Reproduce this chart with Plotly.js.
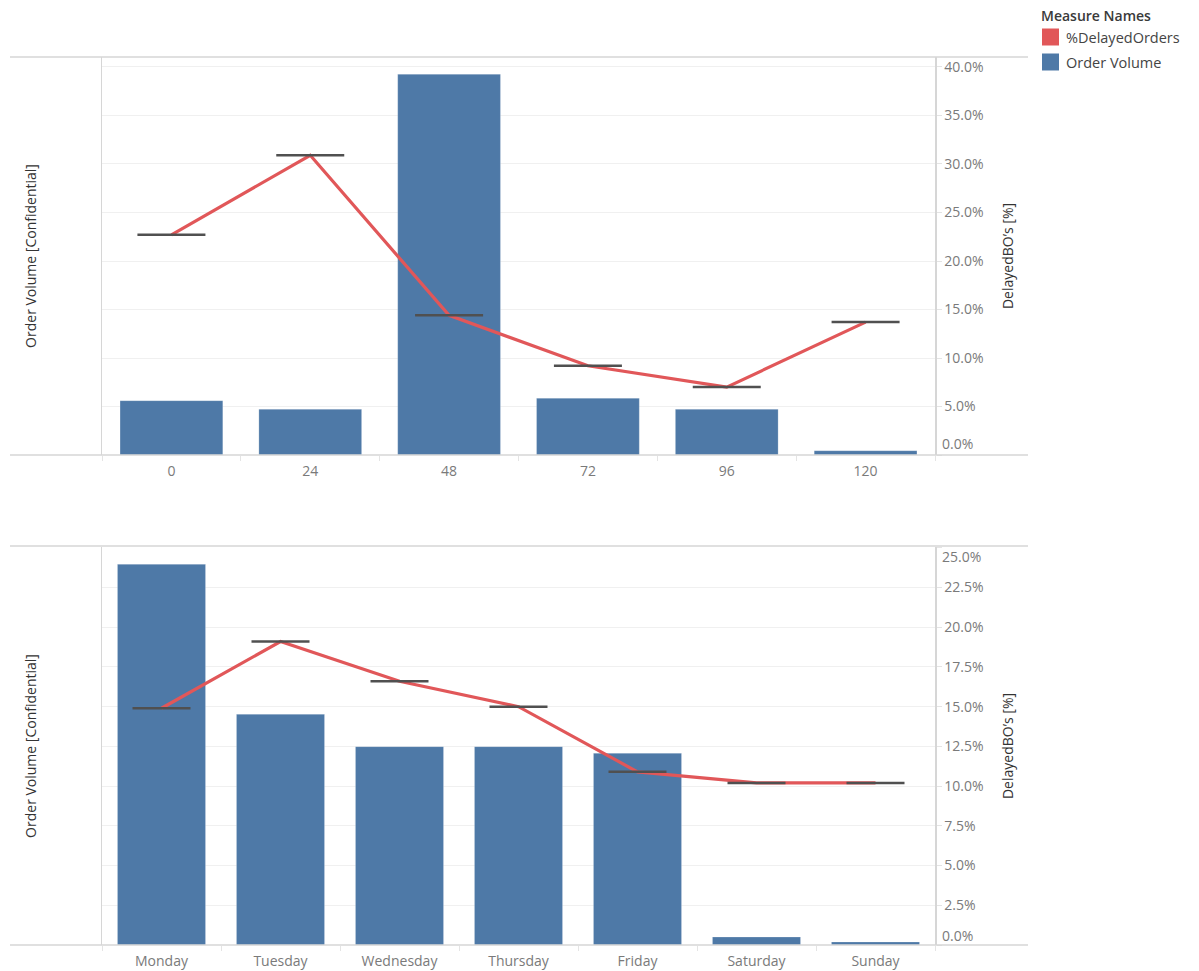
<!DOCTYPE html>
<html>
<head>
<meta charset="utf-8">
<script src="https://cdn.plot.ly/plotly-3.0.1.min.js"></script>
<style>
  html, body { margin: 0; padding: 0; background: #ffffff; }
  #chart { width: 1199px; height: 971px; }
</style>
</head>
<body>
<div id="chart"></div>
<script>
// Order volume and share of delayed orders, by lead-time bucket (hours)
const hourBins = ['0', '24', '48', '72', '96', '120'];
const hourVolume = [5460, 4590, 38260, 5700, 4590, 430];
const hourDelayedPct = [22.7, 30.9, 14.4, 9.2, 7.0, 13.7];

// Same measures by weekday
const weekdays = ['Monday', 'Tuesday', 'Wednesday', 'Thursday', 'Friday', 'Saturday', 'Sunday'];
const weekdayVolume = [23910, 14490, 12460, 12460, 12040, 500, 190];
const weekdayDelayedPct = [14.9, 19.1, 16.6, 15.0, 10.9, 10.2, 10.2];

// Percent axis ticks
const hourPctTicks = [0, 5, 10, 15, 20, 25, 30, 35, 40];
const weekdayPctTicks = [0, 2.5, 5, 7.5, 10, 12.5, 15, 17.5, 20, 22.5, 25];

const legendNames = ['%DelayedOrders', 'Order Volume'];

const BLUE = '#4e79a7';
const RED = '#e15759';
const REF = '#505050';
const FRAME = '#d6d6d6';
const GRID = '#f0f0f0';
const TICKTXT = '#7a7a7a';
const TITLETXT = '#333333';
const FONT = 'Open Sans, Noto Sans, sans-serif';

// plot area geometry (pixels) used to place frame lines and legend
const M = { l: 102, r: 264, t: 57, b: 26 };
const W = 1199, H = 971;
const plotW = W - M.l - M.r, plotH = H - M.t - M.b;
const px2x = px => (px - M.l) / plotW;
const py2y = py => (H - M.b - py) / plotH;

const topDomain = [py2y(455), 1];
const botDomain = [0, py2y(547)];

const pctLabel = v => v.toFixed(1) + '%';

function hideEdge(ticks, edges) {
  return ticks.map(v => edges.includes(v) ? '' : pctLabel(v));
}

// 'line-ew' markers span 1.4 x size, so size is set from the wanted dash width
const dashSize = widthPx => widthPx / 1.4;

const traces = [
  {
    type: 'bar', x: hourBins, y: hourVolume, xaxis: 'x', yaxis: 'y',
    marker: { color: BLUE, line: { color: 'rgba(255,255,255,0.35)', width: 0.6 } },
    width: 0.74, name: legendNames[1], showlegend: false, hoverinfo: 'x+y'
  },
  {
    type: 'scatter', mode: 'lines', x: hourBins, y: hourDelayedPct, xaxis: 'x', yaxis: 'y2',
    line: { color: RED, width: 3.2 }, name: legendNames[0], showlegend: false
  },
  {
    type: 'scatter', mode: 'markers', x: hourBins, y: hourDelayedPct, xaxis: 'x', yaxis: 'y2',
    marker: { symbol: 'line-ew', size: dashSize(68), color: REF, line: { color: REF, width: 2.5 } },
    showlegend: false, hoverinfo: 'skip'
  },
  {
    type: 'bar', x: weekdays, y: weekdayVolume, xaxis: 'x2', yaxis: 'y3',
    marker: { color: BLUE, line: { color: 'rgba(255,255,255,0.35)', width: 0.6 } },
    width: 0.74, name: legendNames[1], showlegend: false, hoverinfo: 'x+y'
  },
  {
    type: 'scatter', mode: 'lines', x: weekdays, y: weekdayDelayedPct, xaxis: 'x2', yaxis: 'y4',
    line: { color: RED, width: 3.2 }, name: legendNames[0], showlegend: false
  },
  {
    type: 'scatter', mode: 'markers', x: weekdays, y: weekdayDelayedPct, xaxis: 'x2', yaxis: 'y4',
    marker: { symbol: 'line-ew', size: dashSize(58), color: REF, line: { color: REF, width: 2.5 } },
    showlegend: false, hoverinfo: 'skip'
  }
];

const catAxis = (anchor, n) => ({
  type: 'category', anchor: anchor, domain: [0, 1], range: [-0.5, n - 0.5],
  showgrid: false, zeroline: false, showline: false,
  ticks: 'outside', tickson: 'boundaries', ticklen: 5, tickcolor: '#e4e4e4',
  ticklabelstandoff: 6,
  tickfont: { family: FONT, size: 14, color: TICKTXT }
});

const volAxis = (domain, range) => ({
  domain: domain, range: range, side: 'left',
  showgrid: false, zeroline: false, showticklabels: false, ticks: '',
  showline: true, linecolor: FRAME, linewidth: 1.5,
  title: { text: 'Order Volume [Confidential]', standoff: 60,
           font: { family: FONT, size: 14, color: TITLETXT } }
});

const pctAxis = (overlay, range, ticks, edges) => ({
  overlaying: overlay, side: 'right', range: range,
  tickvals: ticks, ticktext: hideEdge(ticks, edges),
  showgrid: true, gridcolor: GRID, gridwidth: 1, zeroline: false,
  showline: true, linecolor: FRAME, linewidth: 1.5,
  ticks: 'outside', ticklen: 5, tickcolor: '#e4e4e4',
  tickfont: { family: FONT, size: 14, color: TICKTXT },
  title: { text: 'DelayedBO\u2019s [%]', standoff: 20,
           font: { family: FONT, size: 14, color: TITLETXT } }
});

// frame lines spanning past the plot edges
const frameY = [57, 455, 546, 945];
const shapes = frameY.map(py => ({
  type: 'line', xref: 'paper', yref: 'paper',
  x0: px2x(10), x1: px2x(1028), y0: py2y(py), y1: py2y(py),
  line: { color: FRAME, width: 1.5 }
}));

// legend swatches
const legendColors = [RED, BLUE];
const legendRows = [37, 62];
legendRows.forEach((cy, i) => {
  shapes.push({
    type: 'rect', xref: 'paper', yref: 'paper',
    x0: px2x(1042), x1: px2x(1059), y0: py2y(cy - 8.5), y1: py2y(cy + 8.5),
    fillcolor: legendColors[i], line: { width: 0 }
  });
});

const annotations = [
  {
    xref: 'paper', yref: 'paper', x: px2x(1039), y: py2y(16),
    xanchor: 'left', yanchor: 'middle', showarrow: false,
    text: 'Measure Names', font: { family: FONT, size: 14, color: '#3a3a3a', weight: 600 }
  }
];
legendRows.forEach((cy, i) => {
  annotations.push({
    xref: 'paper', yref: 'paper', x: px2x(1064), y: py2y(cy),
    xanchor: 'left', yanchor: 'middle', showarrow: false,
    text: legendNames[i], font: { family: FONT, size: 14.5, color: '#444444' }
  });
});

// edge tick labels nudged inside the pane
function edgeLabel(yref, value, shift) {
  return {
    xref: 'paper', yref: yref, x: 1, y: value, xanchor: 'left', yanchor: 'middle',
    xshift: 5, yshift: shift, showarrow: false, text: pctLabel(value),
    font: { family: FONT, size: 14, color: TICKTXT }
  };
}
annotations.push(edgeLabel('y2', 0, 12));
annotations.push(edgeLabel('y4', 0, 10));
annotations.push(edgeLabel('y4', 25, -9));

const layout = {
  width: W, height: H,
  margin: M,
  paper_bgcolor: '#ffffff', plot_bgcolor: '#ffffff',
  showlegend: false,
  font: { family: FONT },
  xaxis: catAxis('y', hourBins.length),
  xaxis2: catAxis('y3', weekdays.length),
  yaxis: volAxis(topDomain, [0, 40000]),
  yaxis2: pctAxis('y', [0, 41.03], hourPctTicks, [0]),
  yaxis3: volAxis(botDomain, [0, 25000]),
  yaxis4: pctAxis('y3', [0, 25.05], weekdayPctTicks, [0, 25]),
  shapes: shapes,
  annotations: annotations
};

Plotly.newPlot('chart', traces, layout, { displayModeBar: false, staticPlot: true });
</script>
</body>
</html>
